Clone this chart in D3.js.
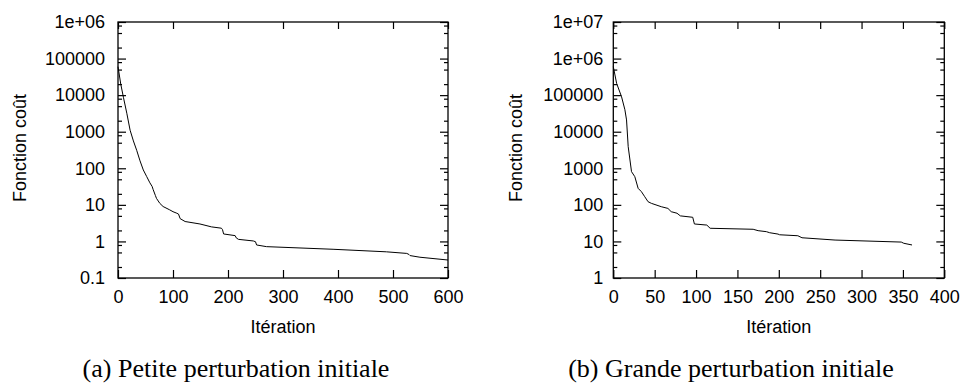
<!DOCTYPE html>
<html>
<head>
<meta charset="utf-8">
<script src="https://cdn.jsdelivr.net/npm/d3@7"></script>
<style>
  html, body { margin: 0; padding: 0; background: #fff; }
  svg { display: block; }
  .tick text { font-family: "Liberation Sans", Arial, sans-serif; font-size: 18px; fill: #000; }
</style>
</head>
<body>
<div id="chart"></div>
<script>
// (a) small initial perturbation
const iterA = [0, 5, 10, 16, 22, 28, 34, 40, 46, 52, 58, 62, 64, 68, 70, 76, 82, 94, 100, 107, 110, 113, 122, 149, 170, 188, 190, 192, 213, 215, 219, 246, 250, 252, 270, 391, 488, 525, 529, 531, 549, 600];
const costA = [6e4, 2e4, 8500, 3200, 1100, 560, 310, 160, 90, 60, 40, 32, 26, 18, 15, 11, 9, 7.3, 6.5, 5.9, 5.6, 4.2, 3.5, 3.0, 2.5, 2.3, 2.1, 1.6, 1.44, 1.25, 1.14, 1.03, 0.98, 0.80, 0.72, 0.61, 0.52, 0.47, 0.44, 0.41, 0.37, 0.31];

// (b) large initial perturbation
const iterB = [0, 4, 10, 14, 16, 18, 22, 26, 30, 34, 38, 42, 46, 58, 66, 70, 77, 81, 96, 98, 113, 117, 169, 175, 185, 189, 199, 201, 223, 228, 268, 348, 351, 361];
const costB = [6e5, 2.1e5, 9e4, 4e4, 2.1e4, 3900, 810, 590, 283, 229, 167, 122, 110, 89, 80, 65, 59, 50, 45.7, 30, 28, 22.9, 21.5, 19.7, 18.5, 17.3, 15.9, 15.2, 14.3, 12.6, 10.9, 9.6, 8.9, 8.0];

// axes
const yTicksA = [0.1, 1, 10, 100, 1000, 10000, 100000, 1e6];
const yLabelsA = ["0.1", "1", "10", "100", "1000", "10000", "100000", "1e+06"];
const xTicksA = [0, 100, 200, 300, 400, 500, 600];

const yTicksB = [1, 10, 100, 1000, 10000, 100000, 1e6, 1e7];
const yLabelsB = ["1", "10", "100", "1000", "10000", "100000", "1e+06", "1e+07"];
const xTicksB = [0, 50, 100, 150, 200, 250, 300, 350, 400];

const minorMult = [2, 5, 8];

const yTitle = "Fonction coût";
const xTitle = "Itération";
const captions = ["(a) Petite perturbation initiale", "(b) Grande perturbation initiale"];

const width = 961, height = 386;

const svg = d3.select("#chart").append("svg")
  .attr("width", width)
  .attr("height", height);

const panels = [
  { iters: iterA, costs: costA, yTicks: yTicksA, yLabels: yLabelsA, xTicks: xTicksA,
    left: 118, right: 448, top: 22, bottom: 278, labelPad: 13, yTitleX: 25.5,
    caption: captions[0], capX: 236 },
  { iters: iterB, costs: costB, yTicks: yTicksB, yLabels: yLabelsB, xTicks: xTicksB,
    left: 613.3, right: 944.3, top: 22, bottom: 278, labelPad: 10, yTitleX: 521.5,
    caption: captions[1], capX: 731 }
];

panels.forEach(p => {
  const x = d3.scaleLinear()
    .domain([p.xTicks[0], p.xTicks[p.xTicks.length - 1]])
    .range([p.left, p.right]);
  const y = d3.scaleLog()
    .domain([p.yTicks[0], p.yTicks[p.yTicks.length - 1]])
    .range([p.bottom, p.top]);

  // minor ticks on log axis
  const minors = [];
  p.yTicks.slice(0, -1).forEach(d => minorMult.forEach(m => minors.push(d * m)));

  const g = svg.append("g");

  // left axis (ticks point inward)
  const yAxisL = g.append("g")
    .attr("transform", `translate(${p.left},0)`)
    .call(d3.axisLeft(y).tickValues(p.yTicks).tickSize(-8).tickPadding(p.labelPad)
      .tickFormat((d, i) => p.yLabels[i]));
  yAxisL.select(".domain").remove();

  g.append("g")
    .attr("transform", `translate(${p.left},0)`)
    .call(d3.axisLeft(y).tickValues(minors).tickSize(-4).tickFormat(""))
    .select(".domain").remove();

  // right mirror
  g.append("g")
    .attr("transform", `translate(${p.right},0)`)
    .call(d3.axisRight(y).tickValues(p.yTicks).tickSize(-8).tickFormat(""))
    .select(".domain").remove();
  g.append("g")
    .attr("transform", `translate(${p.right},0)`)
    .call(d3.axisRight(y).tickValues(minors).tickSize(-4).tickFormat(""))
    .select(".domain").remove();

  // bottom axis
  const xAxisB = g.append("g")
    .attr("transform", `translate(0,${p.bottom})`)
    .call(d3.axisBottom(x).tickValues(p.xTicks).tickSize(-8).tickPadding(12)
      .tickFormat(d3.format("d")));
  xAxisB.select(".domain").remove();
  xAxisB.selectAll(".tick text").attr("dy", "0.71em");

  // top mirror
  g.append("g")
    .attr("transform", `translate(0,${p.top})`)
    .call(d3.axisTop(x).tickValues(p.xTicks).tickSize(-7).tickFormat(""))
    .select(".domain").remove();

  g.selectAll(".tick line").attr("stroke", "#000").attr("stroke-width", 1.2);

  // frame
  g.append("rect")
    .attr("x", p.left)
    .attr("y", p.top)
    .attr("width", p.right - p.left)
    .attr("height", p.bottom - p.top)
    .attr("fill", "none")
    .attr("stroke", "#000")
    .attr("stroke-width", 1.3);

  // curve
  const pts = p.iters.map((it, i) => [it, p.costs[i]]);
  g.append("path")
    .datum(pts)
    .attr("fill", "none")
    .attr("stroke", "#000")
    .attr("stroke-width", 1)
    .attr("d", d3.line().x(d => x(d[0])).y(d => y(d[1])));

  // titles
  g.append("text")
    .attr("x", (p.left + p.right) / 2)
    .attr("y", 333)
    .attr("text-anchor", "middle")
    .style("font-family", "'Liberation Sans', Arial, sans-serif")
    .style("font-size", "18px")
    .text(xTitle);

  g.append("text")
    .attr("transform", `translate(${p.yTitleX},148) rotate(-90)`)
    .attr("text-anchor", "middle")
    .style("font-family", "'Liberation Sans', Arial, sans-serif")
    .style("font-size", "18px")
    .text(yTitle);

  // caption
  svg.append("text")
    .attr("x", p.capX)
    .attr("y", 376.5)
    .attr("text-anchor", "middle")
    .style("font-family", "'Liberation Serif', 'Times New Roman', serif")
    .style("font-size", "26px")
    .text(p.caption);
});
</script>
</body>
</html>
